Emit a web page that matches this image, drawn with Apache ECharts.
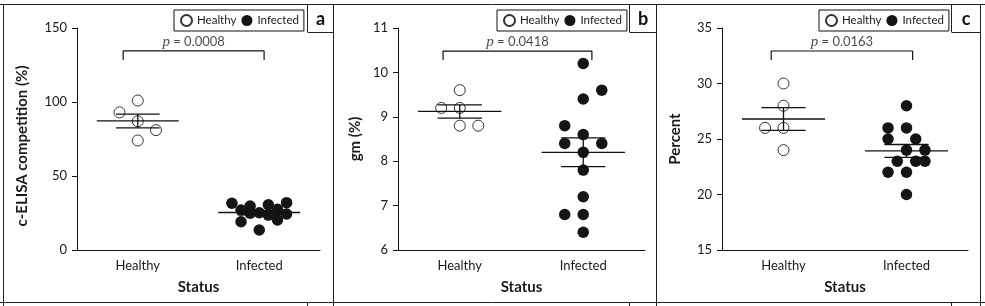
<!DOCTYPE html>
<html>
<head>
<meta charset="utf-8">
<script src="https://cdn.jsdelivr.net/npm/echarts@6/dist/echarts.min.js"></script>
<style>
html,body{margin:0;padding:0;background:#fff;}
#chart{width:985px;height:306px;}
</style>
</head>
<body>
<div id="chart"></div>
<script>
// ---------- data ----------
const categories = ['Healthy', 'Infected'];
const panelLetters = ['a', 'b', 'c'];
const yTitles = ['c-ELISA competition (%)', 'gm (%)', 'Percent'];
const pValues = ['0.0008', '0.0418', '0.0163'];
const yMins = [0, 6, 15];
const yMaxs = [150, 11, 35];
const yIntervals = [50, 1, 5];

// panel a: c-ELISA competition
const aHealthy = [93, 101, 87, 81, 74];
const aHealthyCol = [-2, 0, 0, 2, 0];
const aInfected = [31.6, 27, 29.7, 19.1, 24.8, 25.2, 13.5, 30.6, 23.6, 27.5, 20.3, 32, 24.3];
const aInfectedCol = [-3, -2, -1, -2, -1, 0, 0, 1, 1, 2, 2, 3, 3];
// panel b: gm (%)
const bHealthy = [9.2, 9.2, 9.6, 8.8, 8.8];
const bHealthyCol = [-2, 0, 0, 0, 2];
const bInfected = [10.2, 9.6, 9.4, 8.8, 8.6, 8.4, 8.4, 8.2, 7.8, 7.2, 6.8, 6.8, 6.4];
const bInfectedCol = [0, 2, 0, -2, 0, -2, 2, 0, 0, 0, -2, 0, 0];
// panel c: Percent
const cHealthy = [30, 28, 26, 26, 24];
const cHealthyCol = [0, 0, -2, 0, 0];
const cInfected = [28, 26, 26, 25, 25, 24, 24, 23, 23, 23, 22, 22, 20];
const cInfectedCol = [0, -2, 0, -2, 1, 0, 2, -1, 1, 2, -2, 0, 0];

// significance brackets (x in category units on a 0..4 scale, y in data units)
const bracketX = [[0.76, 3.08], [0.73, 3.14], [0.80, 3.10]];
const bracketY = [[134.5, 128.4], [10.48, 10.28], [32.93, 32.12]];

// ---------- build ----------
const panels = [
  {h: aHealthy, hc: aHealthyCol, inf: aInfected, ic: aInfectedCol},
  {h: bHealthy, hc: bHealthyCol, inf: bInfected, ic: bInfectedCol},
  {h: cHealthy, hc: cHealthyCol, inf: cInfected, ic: cInfectedCol}
];
const STEP = 0.15;           // jitter column width (x units)
const CENTERS = [1, 3];      // positions of the two categories on 0..4 scale
const FONT = 'Lato';
const TXT = '#1a1a1a';

function mean(a){return a.reduce((s,v)=>s+v,0)/a.length;}
function sem(a){const m=mean(a);const v=a.reduce((s,x)=>s+(x-m)*(x-m),0)/(a.length-1);return Math.sqrt(v/a.length);}

const grids = [
  {left: 77, top: 28, width: 243, height: 222},
  {left: 398, top: 28, width: 247, height: 222},
  {left: 722, top: 28, width: 246, height: 222}
];
const yNameGaps = [47, 35, 39];

const xAxes = [], yAxes = [], series = [], legends = [];
const legendLefts = [174, 497, 819];

function errRender(params, api){
  const cx = api.value(0), m = api.value(1), s = api.value(2);
  const c = (x,y)=>api.coord([x,y]);
  const segs = [
    [c(cx-0.675,m), c(cx+0.675,m)],
    [c(cx-0.36,m+s), c(cx+0.36,m+s)],
    [c(cx-0.36,m-s), c(cx+0.36,m-s)],
    [c(cx,m-s), c(cx,m+s)]
  ];
  return {type:'group', children: segs.map(([p,q])=>({
    type:'line', shape:{x1:p[0],y1:p[1],x2:q[0],y2:q[1]},
    style:{stroke:'#111', lineWidth:1.3}
  }))};
}

panels.forEach((p, i) => {
  xAxes.push({
    type:'category', gridIndex:i, data:categories, boundaryGap:true,
    name:'Status', nameLocation:'middle', nameGap:30,
    nameTextStyle:{fontFamily:FONT, fontWeight:'bold', fontSize:15, color:TXT},
    axisLine:{lineStyle:{color:'#111', width:1}},
    axisTick:{alignWithLabel:true, length:6, lineStyle:{color:'#111'}},
    axisLabel:{fontFamily:FONT, fontSize:13, color:TXT, margin:9},
    splitLine:{show:false}
  });
  xAxes.push({type:'value', gridIndex:i, min:0, max:4, show:false});
  yAxes.push({
    type:'value', gridIndex:i, min:yMins[i], max:yMaxs[i], interval:yIntervals[i],
    name:yTitles[i], nameLocation:'middle', nameGap:yNameGaps[i],
    nameTextStyle:{fontFamily:FONT, fontWeight:'bold', fontSize:15, color:TXT, padding:[0,0,0,-14*(i===0?1:0)]},
    axisLine:{show:true, lineStyle:{color:'#111', width:1}},
    axisTick:{show:true, length:5, lineStyle:{color:'#111'}},
    axisLabel:{fontFamily:FONT, fontSize:13, color:TXT, margin:10},
    splitLine:{show:false}
  });
  const xi = 2*i+1;
  series.push({
    name:'Healthy', type:'scatter', xAxisIndex:xi, yAxisIndex:i,
    symbol:'circle', symbolSize:11, z:2,
    itemStyle:{color:'#fff', borderColor:'#333', borderWidth:1, opacity:1},
    data:p.h.map((v,k)=>[CENTERS[0]+p.hc[k]*STEP, v])
  });
  series.push({
    name:'Infected', type:'scatter', xAxisIndex:xi, yAxisIndex:i,
    symbol:'circle', symbolSize:11.5, z:2,
    itemStyle:{color:'#151515', opacity:1},
    data:p.inf.map((v,k)=>[CENTERS[1]+p.ic[k]*STEP, v])
  });
  series.push({
    type:'custom', xAxisIndex:xi, yAxisIndex:i, z:5, silent:true,
    renderItem:errRender, encode:{x:0, y:1},
    data:[[CENTERS[0], mean(p.h), sem(p.h)], [CENTERS[1], mean(p.inf), sem(p.inf)]]
  });
  const bx = bracketX[i], by = bracketY[i];
  series.push({
    type:'line', xAxisIndex:xi, yAxisIndex:i, z:4, silent:true,
    symbol:'none', lineStyle:{color:'#111', width:1.2},
    data:[[bx[0],by[1]],[bx[0],by[0]],[bx[1],by[0]],[bx[1],by[1]]]
  });
  series.push({
    type:'scatter', xAxisIndex:xi, yAxisIndex:i, z:6, silent:true,
    symbol:'circle', symbolSize:1, itemStyle:{color:'rgba(0,0,0,0)'},
    label:{show:true, position:'top', distance:1,
      formatter:'{i|p}{t| = ' + pValues[i] + '}',
      rich:{
        i:{fontFamily:'Liberation Serif', fontStyle:'italic', fontSize:15, color:TXT},
        t:{fontFamily:FONT, fontSize:13, color:TXT}
      }},
    data:[[(bx[0]+bx[1])/2, by[0]]]
  });
  legends.push({
    data:['Healthy','Infected'], left:legendLefts[i], top:10,
    orient:'horizontal', icon:'circle', itemWidth:11, itemHeight:11, itemGap:5,
    padding:[4,5,4,6], borderColor:'#111', borderWidth:1, borderRadius:0,
    selectedMode:false,
    textStyle:{fontFamily:FONT, fontSize:11.5, color:TXT}
  });
});

// ---------- figure frame ----------
const L = (x1,y1,x2,y2)=>({type:'line', silent:true, shape:{x1,y1,x2,y2}, style:{stroke:'#222', lineWidth:1}});
const graphics = [
  L(0,4.5,985,4.5), L(0,302.5,985,302.5),
  L(3.5,4,3.5,306), L(333.5,4,333.5,306), L(656.5,4,656.5,306), L(980.5,4,980.5,306),
  L(307.5,4,307.5,32), L(307.5,32.5,333.5,32.5),
  L(629.5,4,629.5,32), L(629.5,32.5,656.5,32.5),
  L(951.5,4,951.5,32), L(951.5,32.5,980.5,32.5),
  L(307.5,302,307.5,306), L(629.5,302,629.5,306), L(951.5,302,951.5,306)
];
const letterPos = [[320.5,19],[643,19],[966,19]];
panelLetters.forEach((t,i)=>{
  graphics.push({type:'text', silent:true, x:letterPos[i][0], y:letterPos[i][1],
    style:{text:t, fontFamily:FONT, fontWeight:'bold', fontSize:18, fill:'#111', align:'center', verticalAlign:'middle'}});
});

const chart = echarts.init(document.getElementById('chart'), null, {renderer:'canvas'});
chart.setOption({
  animation:false,
  backgroundColor:'#fff',
  grid:grids,
  xAxis:xAxes,
  yAxis:yAxes,
  legend:legends,
  series:series,
  graphic:graphics
});
</script>
</body>
</html>
